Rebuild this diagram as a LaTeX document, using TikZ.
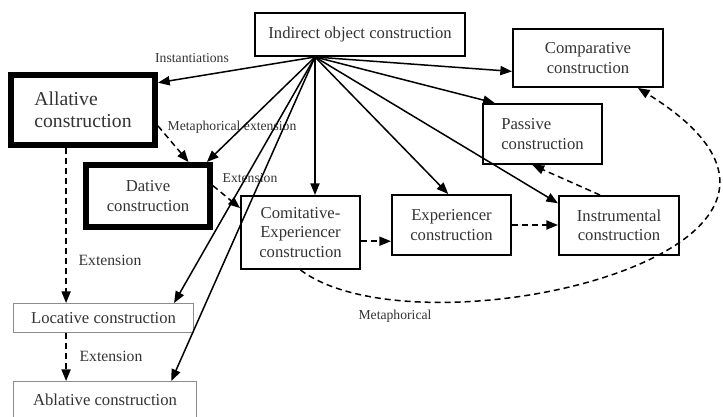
\documentclass[tikz,border=0pt]{standalone}
\usepackage{fontspec}
\setmainfont{Liberation Serif}
\usetikzlibrary{arrows.meta}

\begin{document}
\begin{tikzpicture}
  [x=0.6pt,y=-0.6pt,
   every node/.style={draw,line width=1.2pt,fill=white,text=black!80,
     font=\fontsize{10}{11.6}\selectfont,align=center,inner sep=2pt},
   heavy/.style={line width=3.6pt,align=left,font=\fontsize{11.8}{13.4}\selectfont},
   thin/.style={draw=black!45,line width=0.6pt},
   lbl/.style={draw=none,fill=none,font=\fontsize{8.2}{10}\selectfont},
   biglbl/.style={lbl,font=\fontsize{9.4}{11}\selectfont},
   arr/.style={-{Triangle[length=7pt,width=5.5pt]},line width=0.9pt},
   dsh/.style={arr,dash pattern=on 3.6pt off 2.4pt}]
  \useasboundingbox (0,0) rectangle (723,416);

  \node (ind) at (360,34.5) [minimum width=126pt,minimum height=25.8pt] {Indirect object construction};
  \node (comp) at (588,58) [minimum width=90pt,minimum height=34.8pt] {Comparative\\construction};
  \node[heavy] (all) at (83,110) [minimum width=86.4pt,minimum height=42pt] {Allative\\construction};
  \node[heavy,align=center,font=\fontsize{10}{11.6}\selectfont] (dat) at (148,196) [minimum width=74.4pt,minimum height=37.2pt] {Dative\\construction};
  \node (pas) at (542.5,134) [align=left,minimum width=71.4pt,minimum height=36pt] {Passive\\construction};
  \node (com) at (300.5,232.5) [minimum width=71.4pt,minimum height=43.8pt] {Comitative-\\Experiencer\\construction};
  \node (exp) at (451.5,225) [minimum width=71.4pt,minimum height=36pt] {Experiencer\\construction};
  \node (ins) at (619,225.5) [minimum width=72pt,minimum height=35.4pt] {Instrumental\\construction};
  \node[thin] (loc) at (103.5,318) [minimum width=108pt,minimum height=17.4pt] {Locative construction};
  \node[thin] (abl) at (105,400) [minimum width=109.8pt,minimum height=22.2pt] {Ablative construction};

  \node[lbl] (inst) at (192,58) {Instantiations};
  \node[lbl] (metx) at (232,127) {Metaphorical extension};
  \node[lbl] (ext1) at (250,178) {Extension};
  \node[biglbl] (ext2) at (110,260) {Extension};
  \node[biglbl] (ext3) at (111,356) {Extension};
  \node[lbl] (meta) at (395,316) {Metaphorical};

  \coordinate (hub) at (315,57);
  \foreach \to in {all.20,dat.30,comp.190,pas.147,exp.96,ins.160,loc.12,abl.16}
    \draw[arr] (hub) -- (\to);
  \draw[arr] (hub) -- (hub |- com.north);

  \draw[dsh] (all.-12) -- (dat.40);
  \draw[dsh] (dat.9) -- (com.158);
  \draw[dsh] (all.246) -- (all.246 |- loc.north);
  \draw[dsh] (loc.south -| all.246) -- (all.246 |- abl.north);
  \draw[dsh] (exp.195 -| com.east) -- (exp.195);
  \draw[dsh] (exp.east) -- (exp.east -| ins.west);
  \draw[dsh] (ins.122) -- (pas.252);
  \draw[dsh] (com.south) .. controls (420,360) and (900,250) .. (comp.-31);

\end{tikzpicture}
\end{document}
